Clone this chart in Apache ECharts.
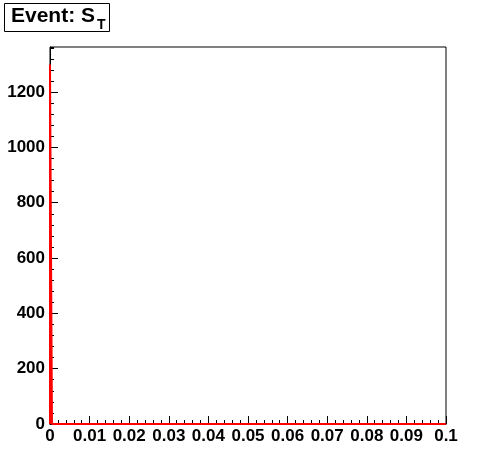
<!DOCTYPE html>
<html>
<head>
<meta charset="utf-8">
<script src="https://cdn.jsdelivr.net/npm/echarts@6/dist/echarts.min.js"></script>
<style>
html,body{margin:0;padding:0;background:#fff;}
#chart{width:496px;height:472px;}
</style>
</head>
<body>
<div id="chart"></div>
<script>
// Histogram data (bin edges and counts)
var binEdges = [0, 0.0005, 0.1];
var binCounts = [1300, 0];
// Tick labels
var xTickLabels = ['0','0.01','0.02','0.03','0.04','0.05','0.06','0.07','0.08','0.09','0.1'];
var yTickLabels = ['0','200','400','600','800','1000','1200'];
var titleMain = 'Event: S';
var titleSub = 'T';

// build step outline from bins
var pts = [[binEdges[0], 0]];
for (var i = 0; i < binCounts.length; i++) {
  pts.push([binEdges[i], binCounts[i]]);
  pts.push([binEdges[i + 1], binCounts[i]]);
}
pts.push([binEdges[binEdges.length - 1], 0]);

var FONT = '"Liberation Sans", Arial, Helvetica, sans-serif';
var chart = echarts.init(document.getElementById('chart'), null, {renderer: 'canvas'});
chart.setOption({
  animation: false,
  backgroundColor: '#fff',
  grid: {left: 50, right: 50, top: 47, bottom: 48, show: true, borderColor: '#000', borderWidth: 1, backgroundColor: '#fff'},
  xAxis: {
    type: 'value', min: 0, max: 0.1, interval: 0.01, z: 1,
    axisLine: {show: true, lineStyle: {color: '#000', width: 1}},
    axisTick: {show: true, inside: true, length: 8, lineStyle: {color: '#000'}},
    minorTick: {show: true, splitNumber: 5, length: 4, lineStyle: {color: '#000'}},
    splitLine: {show: false},
    axisLabel: {
      margin: 4, color: '#000', fontSize: 17, fontWeight: 'bold', fontFamily: FONT,
      formatter: function (v, idx) { return xTickLabels[idx] !== undefined ? xTickLabels[idx] : ''; }
    }
  },
  yAxis: [{
    type: 'value', min: 0, max: 1363, interval: 200, z: 1,
    axisLine: {show: true, lineStyle: {color: '#000', width: 1}},
    axisTick: {show: true, inside: true, length: 8, lineStyle: {color: '#000'}},
    splitLine: {show: false},
    axisLabel: {
      margin: 5, color: '#000', fontSize: 17, fontWeight: 'bold', fontFamily: FONT,
      showMaxLabel: false,
      formatter: function (v, idx) {
        var k = Math.round(v / 200);
        return (Math.abs(v - k * 200) < 1e-6 && yTickLabels[k] !== undefined) ? yTickLabels[k] : '';
      }
    }
  }, {
    type: 'value', min: 0, max: 1363, interval: 40, z: 1, position: 'left',
    axisLine: {show: false},
    axisTick: {show: true, inside: true, length: 4, lineStyle: {color: '#000'}},
    splitLine: {show: false},
    axisLabel: {show: false}
  }],
  graphic: [
    {type: 'rect', shape: {x: 4.5, y: 3.5, width: 105, height: 28}, style: {fill: '#fff', stroke: '#000', lineWidth: 1}, z: 10},
    {type: 'text', x: 11, y: 16, style: {text: titleMain, font: 'bold 21px ' + FONT, fill: '#000', verticalAlign: 'middle', align: 'left'}, z: 11},
    {type: 'text', x: 97, y: 25, style: {text: titleSub, font: 'bold 14px ' + FONT, fill: '#000', verticalAlign: 'middle', align: 'left'}, z: 11}
  ],
  series: [{
    type: 'line', data: pts, symbol: 'none', z: 10,
    lineStyle: {color: '#ff0000', width: 2},
    xAxisIndex: 0, yAxisIndex: 0
  }]
});
</script>
</body>
</html>
